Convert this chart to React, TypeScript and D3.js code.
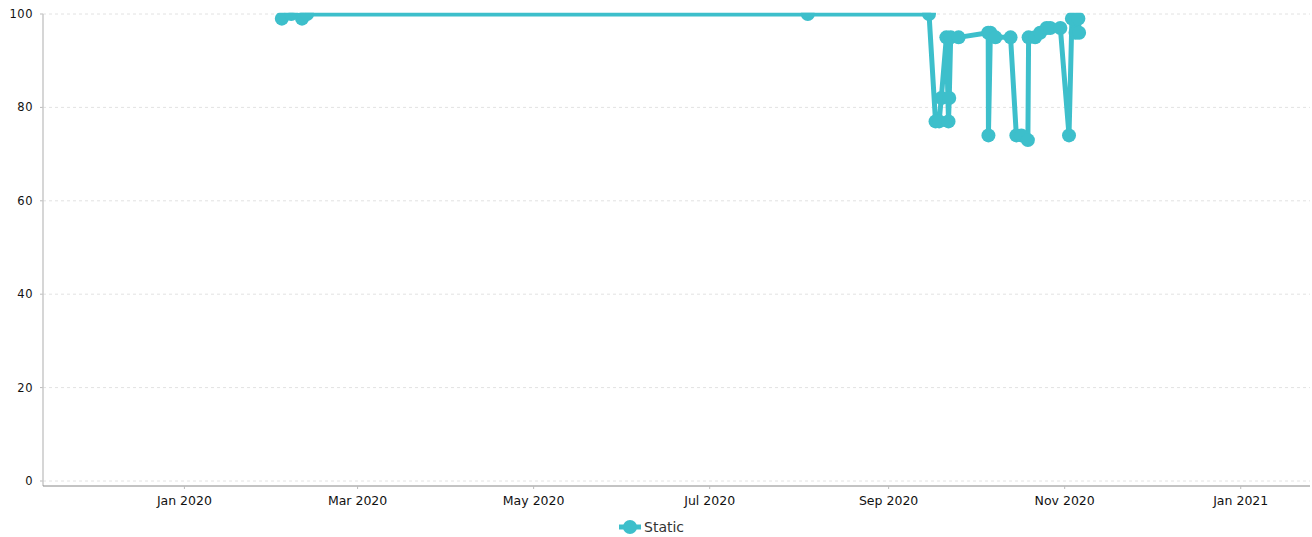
import React from "react";
import * as d3 from "d3";

const dates: string[] = [
  "2020-02-03T18:00Z", "2020-02-07T00:00Z", "2020-02-10T18:00Z", "2020-02-12T12:00Z",
  "2020-08-04T00:00Z", "2020-09-15T00:00Z",
  "2020-09-17T06:00Z", "2020-09-18T12:00Z", "2020-09-19T06:00Z", "2020-09-21T00:00Z",
  "2020-09-21T18:00Z", "2020-09-22T00:00Z", "2020-09-22T12:00Z", "2020-09-25T06:00Z",
  "2020-10-05T12:00Z", "2020-10-05T14:00Z", "2020-10-06T06:00Z", "2020-10-08T00:00Z",
  "2020-10-13T06:00Z", "2020-10-15T06:00Z", "2020-10-17T00:00Z", "2020-10-19T06:00Z",
  "2020-10-19T12:00Z", "2020-10-21T18:00Z", "2020-10-23T12:00Z", "2020-10-25T18:00Z",
  "2020-10-27T00:00Z", "2020-10-30T12:00Z", "2020-11-02T12:00Z", "2020-11-03T12:00Z",
  "2020-11-04T18:00Z", "2020-11-05T18:00Z", "2020-11-06T00:00Z",
];
const values: number[] = [
  99, 100, 99, 100,
  100, 100,
  77, 77, 82, 95,
  77, 82, 95, 95,
  96, 74, 96, 95,
  95, 74, 74, 73,
  95, 95, 96, 97,
  97, 97, 74, 99,
  96, 99, 96,
];
const seriesName = "Static";
const yTicks: number[] = [0, 20, 40, 60, 80, 100];
const xTickDates: string[] = [
  "2020-01-01T00:00Z", "2020-03-01T00:00Z", "2020-05-01T00:00Z", "2020-07-01T00:00Z",
  "2020-09-01T00:00Z", "2020-11-01T00:00Z", "2021-01-01T00:00Z",
];
const xDomain: string[] = ["2019-11-13T00:00Z", "2021-01-25T00:00Z"];

const COLOR = "#3dbfcb";

export default function App() {
  const W = 1312, H = 537;
  const left = 43, right = 1310, top = 14, bottom = 481, axisY = 486;
  const x = d3.scaleUtc().domain(xDomain.map((d) => new Date(d))).range([left, right]);
  const y = d3.scaleLinear().domain([0, 100]).range([bottom, top]);
  const data = dates.map((d, i) => ({ t: new Date(d), v: values[i] }));
  const line = d3.line<{ t: Date; v: number }>().x((d) => x(d.t)).y((d) => y(d.v));
  const fmt = d3.utcFormat("%b %Y");
  return (
    <svg width={W} height={H} style={{ position: "absolute", left: 0, top: 0, background: "#fff" }}>
      <defs>
        <clipPath id="plotclip">
          <rect x={left} y={12.7} width={right - left} height={axisY - 12.7} />
        </clipPath>
      </defs>
      {yTicks.map((t) => (
        <g key={t}>
          <line x1={left} x2={right} y1={y(t)} y2={y(t)} stroke="#e2e2e2" strokeDasharray="3,3" />
          <line x1={left - 3} x2={left} y1={y(t)} y2={y(t)} stroke="#bbb" />
          <text x={33} y={y(t)} dy="0.35em" textAnchor="end" fontFamily="DejaVu Sans" fontSize={11.5} fill="#111" letterSpacing={0.5}>{t}</text>
        </g>
      ))}
      <line x1={left} x2={left} y1={top} y2={axisY} stroke="#c8c8c8" strokeWidth={1.5} />
      <line x1={left} x2={right} y1={axisY} y2={axisY} stroke="#888" strokeWidth={1} />
      {xTickDates.map((d) => {
        const dt = new Date(d);
        return (
          <g key={d}>
            <line x1={x(dt)} x2={x(dt)} y1={axisY} y2={axisY + 3} stroke="#bbb" />
            <text x={x(dt)} y={505} textAnchor="middle" fontFamily="DejaVu Sans" fontSize={12.5} fill="#111">{fmt(dt)}</text>
          </g>
        );
      })}
      <g clipPath="url(#plotclip)">
        <path d={line(data) || ""} fill="none" stroke={COLOR} strokeWidth={5} strokeLinejoin="round" />
        {data.map((d, i) => (
          <circle key={i} cx={x(d.t)} cy={y(d.v)} r={7} fill={COLOR} />
        ))}
      </g>
      <g>
        <line x1={619} x2={641} y1={527} y2={527} stroke={COLOR} strokeWidth={5} />
        <circle cx={630} cy={527} r={7} fill={COLOR} />
        <text x={644} y={532} fontFamily="DejaVu Sans" fontSize={14} fill="#333">{seriesName}</text>
      </g>
    </svg>
  );
}
